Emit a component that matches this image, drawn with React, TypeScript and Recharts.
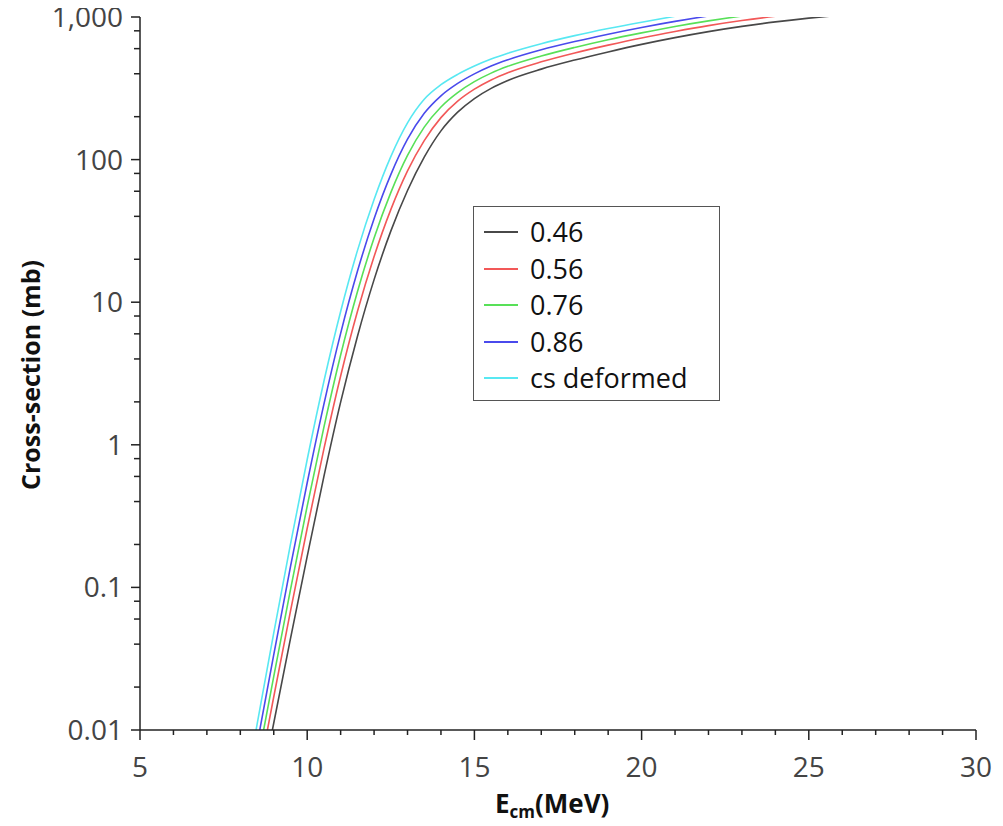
import { LineChart, Line, XAxis, YAxis } from "recharts";

// E_cm (MeV) grid and cross-sections (mb); null = not drawn
const energy = [8.0, 8.5, 9.0, 9.5, 10, 10.5, 11, 11.5, 12, 12.5, 13, 13.5, 14, 14.5, 15, 15.5, 16, 17, 18, 19, 20, 21, 22, 23, 24, 25, 26];
const cs046 = [null, 0.0028, 0.0112, 0.0437, 0.165, 0.6, 1.99, 5.73, 14.4, 31.5, 60.7, 104, 159, 215, 268, 316, 359, 431, 499, 569, 643, 717, 790, 859, 924, 982, 1033];
const cs056 = [null, 0.00416, 0.0171, 0.0681, 0.26, 0.936, 3.04, 8.57, 20.9, 44.6, 83.4, 136, 197, 257, 312, 362, 407, 485, 560, 635, 713, 791, 870, 944, 1012, 1072, null];
const cs076 = [null, 0.00569, 0.0238, 0.0966, 0.372, 1.33, 4.26, 11.8, 28.2, 58.7, 107, 169, 234, 295, 352, 404, 451, 533, 612, 693, 774, 858, 939, 1016, 1085, null, null];
const cs086 = [null, 0.00789, 0.0338, 0.14, 0.542, 1.93, 6.05, 16.4, 38.5, 78.5, 139, 211, 280, 342, 399, 453, 501, 589, 673, 758, 845, 932, 1017, 1096, null, null, null];
const csDeformed = [0.00245, 0.0109, 0.048, 0.201, 0.789, 2.79, 8.61, 22.9, 52.5, 105, 181, 265, 335, 396, 453, 507, 557, 650, 740, 830, 920, 1012, 1104, null, null, null, null];

const seriesKeys = ["s046", "s056", "s076", "s086", "sdef"];
const seriesNames = ["0.46", "0.56", "0.76", "0.86", "cs deformed"];
const seriesColors = ["#484848", "#f25858", "#58e058", "#4a4aec", "#58e8f2"];
const seriesData = [cs046, cs056, cs076, cs086, csDeformed];

const xTicks = [5, 6, 7, 8, 9, 10, 11, 12, 13, 14, 15, 16, 17, 18, 19, 20, 21, 22, 23, 24, 25, 26, 27, 28, 29, 30];
const xMajor = [5, 10, 15, 20, 25, 30];
const yMajor = [0.01, 0.1, 1, 10, 100, 1000];
const yMinor = [
  0.02, 0.04, 0.06, 0.08, 0.2, 0.4, 0.6, 0.8, 2, 4, 6, 8, 20, 40, 60, 80, 200, 400, 600, 800,
];

const FONT = "'Open Sans', 'Noto Sans', sans-serif";

const rows = energy.map((e, i) => {
  const row: Record<string, number | null> = { e };
  seriesKeys.forEach((k, j) => {
    row[k] = seriesData[j][i];
  });
  return row;
});

const XTick = (props: any) => {
  const { x, y, payload } = props;
  const major = xMajor.includes(payload.value);
  return (
    <g>
      <line x1={x} y1={y} x2={x} y2={y + (major ? 10 : 5)} stroke="#222" strokeWidth={1.5} />
      {major && (
        <text x={x} y={y + 47} textAnchor="middle" fontSize={28} fill="#444" fontFamily={FONT}>
          {payload.value}
        </text>
      )}
    </g>
  );
};

const YTick = (props: any) => {
  const { x, y, payload } = props;
  const major = yMajor.includes(payload.value);
  return (
    <g>
      <line x1={x - (major ? 9 : 6)} y1={y} x2={x} y2={y} stroke="#222" strokeWidth={1.5} />
      {major && (
        <text x={x - 17} y={y + 10} textAnchor="end" fontSize={28} fill="#444" fontFamily={FONT}>
          {payload.value.toLocaleString("en-US")}
        </text>
      )}
    </g>
  );
};

const LegendBox = () => (
  <div
    style={{
      position: "absolute",
      left: 473,
      top: 206,
      width: 247,
      height: 195,
      border: "1.5px solid #555",
      background: "#fff",
      boxSizing: "border-box",
      paddingTop: 7,
      fontFamily: FONT,
    }}
  >
    {seriesNames.map((name, i) => (
      <div key={name} style={{ display: "flex", alignItems: "center", height: 36.5 }}>
        <div style={{ width: 34, height: 2, background: seriesColors[i], marginLeft: 10, marginRight: 12 }} />
        <span style={{ fontSize: 27, color: "#111", lineHeight: "36px" }}>{name}</span>
      </div>
    ))}
  </div>
);

export default function App() {
  return (
    <div style={{ position: "relative", width: 1003, height: 826, margin: "-8px 0 0 -8px" }}>
      <LineChart width={1003} height={826} data={rows} margin={{ top: 17, right: 27, left: 0, bottom: 0 }}>
        <XAxis
          type="number"
          dataKey="e"
          domain={[5, 30]}
          ticks={xTicks}
          interval={0}
          allowDataOverflow
          height={96}
          tickSize={0}
          tickMargin={0}
          tick={<XTick />}
          axisLine={{ stroke: "#222", strokeWidth: 1.5 }}
          label={{
            content: () => (
              <text x={495} y={813} fontFamily={FONT} fontWeight="bold" fill="#111">
                <tspan fontSize={26}>E</tspan>
                <tspan fontSize={17} dy={5}>cm</tspan>
                <tspan fontSize={26} dy={-5}>(MeV)</tspan>
              </text>
            ),
          }}
        />
        <XAxis
          xAxisId="top"
          orientation="top"
          type="number"
          domain={[5, 30]}
          height={0}
          tick={false}
          tickLine={false}
          axisLine={{ stroke: "#888", strokeWidth: 1.5 }}
        />
        <YAxis
          type="number"
          scale="log"
          domain={[0.01, 1000]}
          ticks={[...yMajor, ...yMinor]}
          interval={0}
          allowDataOverflow
          width={140}
          tickSize={0}
          tickMargin={0}
          tick={<YTick />}
          axisLine={{ stroke: "#222", strokeWidth: 1.5 }}
          label={{
            content: () => (
              <text
                x={30}
                y={375}
                transform="rotate(-90, 30, 375)"
                textAnchor="middle"
                dominantBaseline="central"
                fontSize={25}
                fontWeight="bold"
                fontFamily={FONT}
                fill="#111"
              >
                Cross-section (mb)
              </text>
            ),
          }}
        />
        <YAxis
          yAxisId="right"
          orientation="right"
          width={0}
          tick={false}
          tickLine={false}
          axisLine={{ stroke: "#444", strokeWidth: 1.5 }}
        />
        {seriesKeys.map((k, i) => (
          <Line
            key={k}
            name={seriesNames[i]}
            dataKey={k}
            type="monotone"
            stroke={seriesColors[i]}
            strokeWidth={1.6}
            dot={false}
            activeDot={false}
            isAnimationActive={false}
          />
        ))}
      </LineChart>
      <LegendBox />
    </div>
  );
}
